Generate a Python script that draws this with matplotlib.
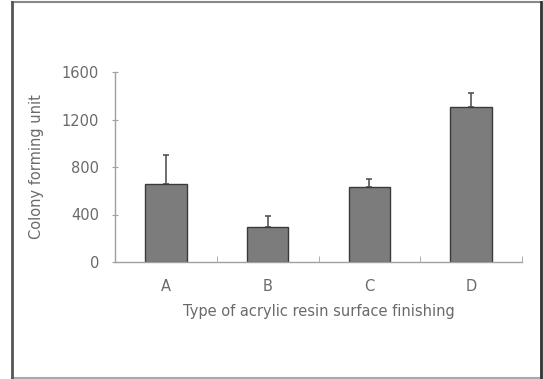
import matplotlib
matplotlib.use("Agg")
import matplotlib.pyplot as plt
from matplotlib.lines import Line2D

categories = ["A", "B", "C", "D"]
means = [655, 295, 630, 1305]
errors_upper = [250, 90, 70, 120]
yticks = [0, 400, 800, 1200, 1600]

plt.rcParams['font.family'] = ['DejaVu Sans']

fig = plt.figure(figsize=(5.43, 3.79), dpi=100)
ax = fig.add_axes([115/543, 1-262/379, (522-115)/543, (262-72)/379])

x = range(len(categories))
ax.bar(x, means, width=0.41, color='#7c7c7c', edgecolor='#3a3a3a', linewidth=1.0, zorder=2)
ax.errorbar(x, means, yerr=[[0]*len(means), errors_upper], fmt='none',
            ecolor='#555555', elinewidth=1.2, capsize=2.5, capthick=1.2, zorder=1)

ax.set_xlim(-0.5, len(categories) - 0.5)
ax.set_ylim(0, 1600)
ax.set_yticks(yticks)
ax.set_yticklabels([str(t) for t in yticks])
ax.set_xticks(list(x))
ax.set_xticklabels(categories)
ax.set_xticks([i + 0.5 for i in range(len(categories))], minor=True)

for s in ['top', 'right']:
    ax.spines[s].set_visible(False)
for s in ['left', 'bottom']:
    ax.spines[s].set_color('#a0a0a0')
    ax.spines[s].set_linewidth(1.0)

tc = '#6a6a6a'
ax.tick_params(axis='y', direction='inout', length=4, color='#a0a0a0', labelsize=10.5, labelcolor=tc, pad=9.5)
ax.tick_params(axis='x', which='major', length=0, labelsize=10.5, labelcolor=tc, pad=12)
ax.tick_params(axis='x', which='minor', direction='in', length=4, color='#a0a0a0')

ax.set_ylabel("Colony forming unit", fontsize=10.5, color=tc, labelpad=13)
ax.set_xlabel("Type of acrylic resin surface finishing", fontsize=10.5, color=tc, labelpad=7.5)

# outer frame
fig.add_artist(Line2D([12/543, 541/543], [1-2/379, 1-2/379], transform=fig.transFigure, color='#888888', lw=1.5))
fig.add_artist(Line2D([12/543, 541/543], [1-377.5/379, 1-377.5/379], transform=fig.transFigure, color='#aaaaaa', lw=1.5))
fig.add_artist(Line2D([12/543, 12/543], [1-2/379, 1-377.5/379], transform=fig.transFigure, color='#555555', lw=2))
fig.add_artist(Line2D([541/543, 541/543], [1-2/379, 1-377.5/379], transform=fig.transFigure, color='#333333', lw=2))

fig.savefig("out.png", dpi=100)
